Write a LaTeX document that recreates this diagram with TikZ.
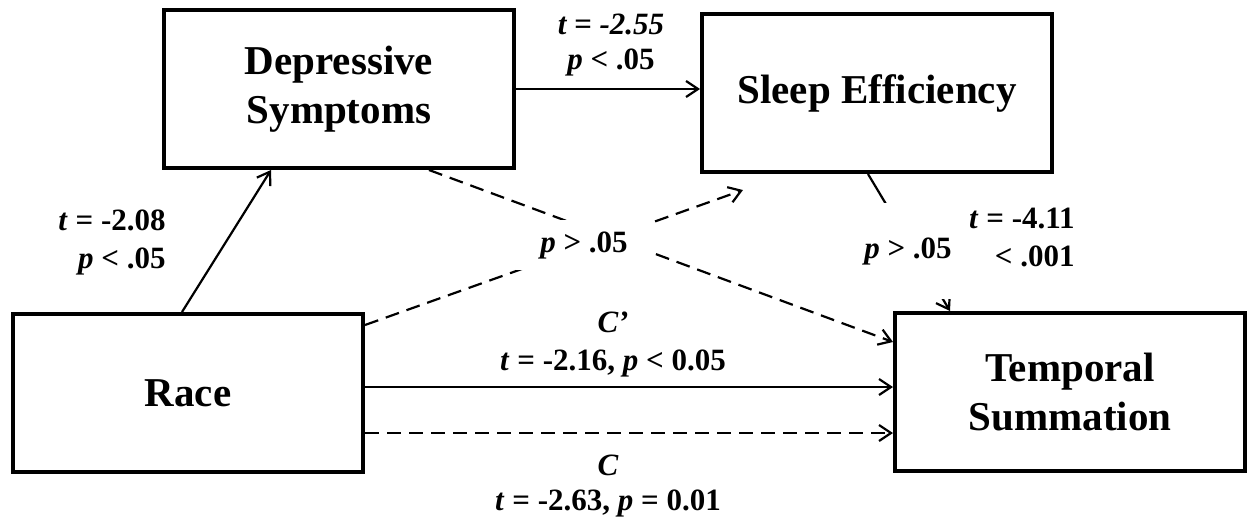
\documentclass[tikz,border=0pt]{standalone}
\usepackage{fontspec}
\setmainfont{Liberation Serif}
\usetikzlibrary{arrows.meta,positioning,calc}

\begin{document}
\begin{tikzpicture}[x=0.5pt,y=-0.5pt,
  varbox/.style={draw, line width=2pt, minimum width=175pt, minimum height=79pt, align=center,
    font=\fontsize{20.5}{24.5}\selectfont\bfseries},
  effect/.style={line width=1.1pt, -{Straight Barb[length=6pt,width=8pt,line width=1.1pt]}},
  nseffect/.style={effect, dash pattern=on 7pt off 4pt},
  stat/.style={font=\fontsize{15.5}{19}\selectfont\bfseries, inner sep=1pt, align=center},
  mask/.style={stat, fill=white}]
\useasboundingbox (0,0) rectangle (1256,531);

\node[varbox] (race) at (188,393) {Race};
\node[varbox] (dep) at (339,89) {Depressive\\Symptoms};
\node[varbox] (sleep) at (877,93) {Sleep Efficiency};
\node[varbox] (temp) at (1070,392) {Temporal\\Summation};

% paths
\draw[effect] ([xshift=-3pt]race.north) -- ([xshift=-34pt]dep.south);
\draw[effect] (dep.east) -- (dep.east -| sleep.west);
\draw[nseffect] ([xshift=45pt]dep.south) -- ([yshift=25pt]temp.west);
\draw[nseffect] ([yshift=34pt]race.east) -- ([shift={(-67pt,-8pt)}]sleep.south);
\draw[effect] ([xshift=-4.5pt]sleep.south) -- ([xshift=-60pt]temp.north);
\draw[effect] ([yshift=3pt]race.east) -- ([yshift=3pt]race.east -| temp.west);
\draw[nseffect] ([yshift=-20pt]race.east) -- ([yshift=-20pt]race.east -| temp.west);

% statistics
\node[stat, font=\fontsize{15.5}{17.5}\selectfont\bfseries] (depsleep) at (611,45) {\textit{t = -2.55}\\\textit{p} < .05};
\node[stat, align=right, anchor=east] (racedep) at (168,242) {\textit{t} = -2.08\\\textit{p} < .05};
\node[mask, minimum width=68pt, minimum height=25pt] (indirect) at (584,245) {\textit{p} > .05};
\node[stat, align=right, anchor=east] (sleeptemp) at (1077,237) {\textit{t} = -4.11\\< .001};
\node[mask, minimum width=62pt, minimum height=48pt] (indirect2) at (908,251) {\textit{p} > .05};
\node[stat] (direct) at (613,344) {\textit{C’}\\\textit{t} = -2.16, \textit{p} < 0.05};
\node[stat, font=\fontsize{15.5}{17.5}\selectfont\bfseries] (total) at (608,486) {\textit{C}\\\textit{t} = -2.63, \textit{p} = 0.01};
\end{tikzpicture}
\end{document}
